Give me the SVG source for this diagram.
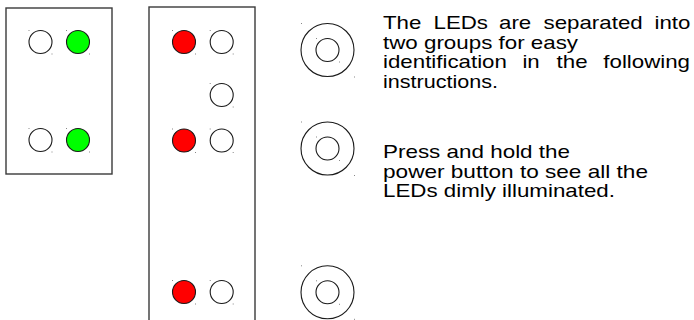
<svg xmlns="http://www.w3.org/2000/svg" width="694" height="320" viewBox="0 0 694 320">
<style>
.box{fill:#fff;stroke:#3a3a3a;stroke-width:1.4}
.led{stroke:#1a1a1a;stroke-width:1.1}
.off{fill:#fff}
.green{fill:#00ff00}
.red{fill:#ff0000}
.ring{fill:none;stroke:#1a1a1a;stroke-width:1.1}
.dot{fill:#888}
.txt{font-family:"Liberation Sans",Arial,sans-serif;font-size:19px;fill:#000}
</style>
<defs>
<g id="ledDots"><rect class="dot" x="-12" y="-12" width="1" height="1"/><rect class="dot" x="11" y="11.5" width="1" height="1"/></g>
<g id="btnShape">
<circle class="ring" r="26.5"/>
<circle class="ring" r="11.5"/>
<rect class="dot" x="-26.5" y="-27" width="1" height="1"/>
<rect class="dot" x="26.5" y="26.5" width="1" height="1"/>
<rect class="dot" x="-11.5" y="-12" width="1" height="1"/>
<rect class="dot" x="11.5" y="11.5" width="1" height="1"/>
</g>
</defs>
<rect width="694" height="320" fill="#fff"/>
<g id="connectors"></g>
<g id="panel-left">
<rect class="box" x="6" y="8" width="106" height="166"/>
<g id="led-l1"><circle class="led off" cx="40.5" cy="42" r="11.5"/><use href="#ledDots" x="40.5" y="42"/></g>
<g id="led-l2"><circle class="led green" cx="78" cy="42" r="11.5"/><use href="#ledDots" x="78" y="42"/></g>
<g id="led-l3"><circle class="led off" cx="40.5" cy="140" r="11.5"/><use href="#ledDots" x="40.5" y="140"/></g>
<g id="led-l4"><circle class="led green" cx="78" cy="140" r="11.5"/><use href="#ledDots" x="78" y="140"/></g>
</g>
<g id="panel-right">
<rect class="box" x="149" y="7" width="106" height="330"/>
<g id="led-r1"><circle class="led red" cx="184" cy="42" r="11.5"/><use href="#ledDots" x="184" y="42"/></g>
<g id="led-r2"><circle class="led off" cx="221.7" cy="42" r="11.5"/><use href="#ledDots" x="221.7" y="42"/></g>
<g id="led-r3"><circle class="led off" cx="221.7" cy="95" r="11.5"/><use href="#ledDots" x="221.7" y="95"/></g>
<g id="led-r4"><circle class="led red" cx="184" cy="140.5" r="11.5"/><use href="#ledDots" x="184" y="140.5"/></g>
<g id="led-r5"><circle class="led off" cx="221.7" cy="140.5" r="11.5"/><use href="#ledDots" x="221.7" y="140.5"/></g>
<g id="led-r6"><circle class="led red" cx="184" cy="292" r="11.5"/><use href="#ledDots" x="184" y="292"/></g>
<g id="led-r7"><circle class="led off" cx="221.7" cy="292" r="11.5"/><use href="#ledDots" x="221.7" y="292"/></g>
</g>
<g id="button-1"><use href="#btnShape" x="327.5" y="50"/></g>
<g id="button-2"><use href="#btnShape" x="327.5" y="148.5"/></g>
<g id="button-3"><use href="#btnShape" x="327.5" y="292.3"/></g>
<g id="text-1" class="txt">
<text y="29"><tspan x="383" textLength="38.4" lengthAdjust="spacingAndGlyphs">The</tspan><tspan x="433.5" textLength="54.5" lengthAdjust="spacingAndGlyphs">LEDs</tspan><tspan x="499" textLength="32.2" lengthAdjust="spacingAndGlyphs">are</tspan><tspan x="543.5" textLength="99.2" lengthAdjust="spacingAndGlyphs">separated</tspan><tspan x="654.5" textLength="35.9" lengthAdjust="spacingAndGlyphs">into</tspan></text>
<text x="383" y="48.7" textLength="195" lengthAdjust="spacingAndGlyphs">two groups for easy</text>
<text y="68.3"><tspan x="383" textLength="123.9" lengthAdjust="spacingAndGlyphs">identification</tspan><tspan x="522.4" textLength="17.3" lengthAdjust="spacingAndGlyphs">in</tspan><tspan x="556.6" textLength="31" lengthAdjust="spacingAndGlyphs">the</tspan><tspan x="603.3" textLength="86.7" lengthAdjust="spacingAndGlyphs">following</tspan></text>
<text x="383" y="88" textLength="115" lengthAdjust="spacingAndGlyphs">instructions.</text>
</g>
<g id="text-2" class="txt">
<text x="383" y="158" textLength="187" lengthAdjust="spacingAndGlyphs">Press and hold the</text>
<text x="383" y="177.6" textLength="265" lengthAdjust="spacingAndGlyphs">power button to see all the</text>
<text x="383" y="197.2" textLength="232" lengthAdjust="spacingAndGlyphs">LEDs dimly illuminated.</text>
</g>
</svg>
